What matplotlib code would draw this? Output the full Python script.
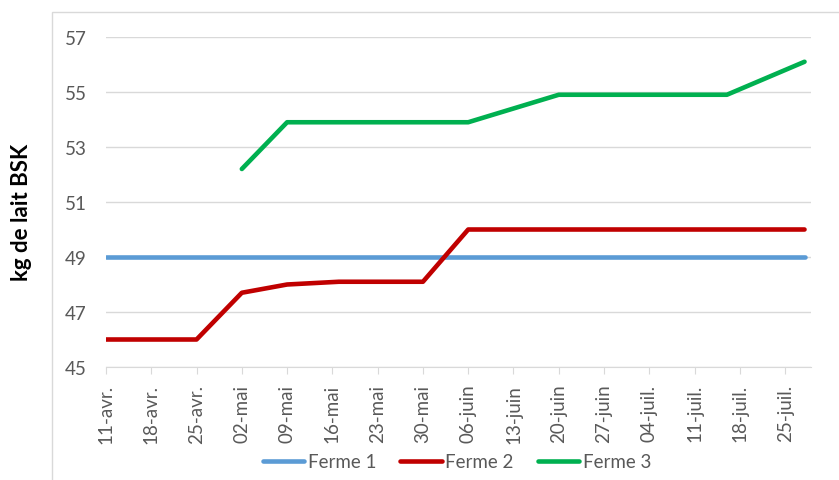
import datetime as dt
import matplotlib
matplotlib.use("Agg")
from matplotlib import pyplot as plt
import matplotlib.dates as mdates
from matplotlib.patches import Rectangle

plt.rcParams['font.family'] = ['Lato', 'DejaVu Sans']

def d(jour, mois):
    return dt.date(2016, mois, jour)

# Ferme 1
dates_f1 = [d(11, 4), d(28, 7)]
lait_f1 = [49, 49]

# Ferme 2
dates_f2 = [d(11, 4), d(25, 4), d(2, 5), d(9, 5), d(17, 5), d(30, 5), d(6, 6), d(28, 7)]
lait_f2 = [46, 46, 47.7, 48.0, 48.1, 48.1, 50, 50]

# Ferme 3
dates_f3 = [d(2, 5), d(9, 5), d(6, 6), d(20, 6), d(16, 7), d(28, 7)]
lait_f3 = [52.2, 53.9, 53.9, 54.9, 54.9, 56.1]

semaines = [d(11, 4) + dt.timedelta(days=7 * i) for i in range(16)]
etiquettes = ['11-avr.', '18-avr.', '25-avr.', '02-mai', '09-mai', '16-mai', '23-mai',
              '30-mai', '06-juin', '13-juin', '20-juin', '27-juin', '04-juil.',
              '11-juil.', '18-juil.', '25-juil.']

gris = '#D9D9D9'
texte = '#595959'

fig = plt.figure(figsize=(8.39, 4.81), dpi=100)
fig.patches.append(Rectangle((52 / 839, -0.1), 1.2, 1 - 13 / 481 + 0.1,
                             transform=fig.transFigure, fill=False,
                             edgecolor=gris, lw=1))
ax = fig.add_axes([106 / 839, 113 / 481, 705 / 839, 330 / 481])

ax.plot(dates_f1, lait_f1, color='#5B9BD5', lw=3.3, solid_capstyle='round',
        solid_joinstyle='round', label='Ferme 1')
ax.plot(dates_f2, lait_f2, color='#C00000', lw=3.3, solid_capstyle='round',
        solid_joinstyle='round', label='Ferme 2')
ax.plot(dates_f3, lait_f3, color='#00B050', lw=3.3, solid_capstyle='round',
        solid_joinstyle='round', label='Ferme 3')

ax.set_ylim(45, 57)
ax.set_yticks(range(45, 58, 2))
ax.set_xlim(mdates.date2num(d(11, 4)), mdates.date2num(d(11, 4)) + 109)
ax.set_xticks(semaines)
ax.set_xticklabels(etiquettes, rotation=90)

ax.grid(axis='y', color=gris, lw=1)
ax.set_axisbelow(True)
for s in ['top', 'right', 'left']:
    ax.spines[s].set_visible(False)
ax.spines['bottom'].set_color(gris)
ax.tick_params(axis='y', length=0, pad=14, labelsize=13.5, labelcolor=texte)
ax.tick_params(axis='x', length=5, color=gris, pad=7, labelsize=13.5, labelcolor=texte)

fig.text(22 / 839, 1 - 212 / 481, 'kg de lait BSK', rotation=90, ha='center',
         va='center', fontsize=16, fontweight='bold')

fig.legend(loc='center', bbox_to_anchor=(457 / 839, 18 / 481), ncol=3,
           frameon=False, fontsize=13.5, handlelength=2.2, handletextpad=0.2,
           columnspacing=1.3, labelcolor=texte)

fig.savefig('out.png', dpi=100)
